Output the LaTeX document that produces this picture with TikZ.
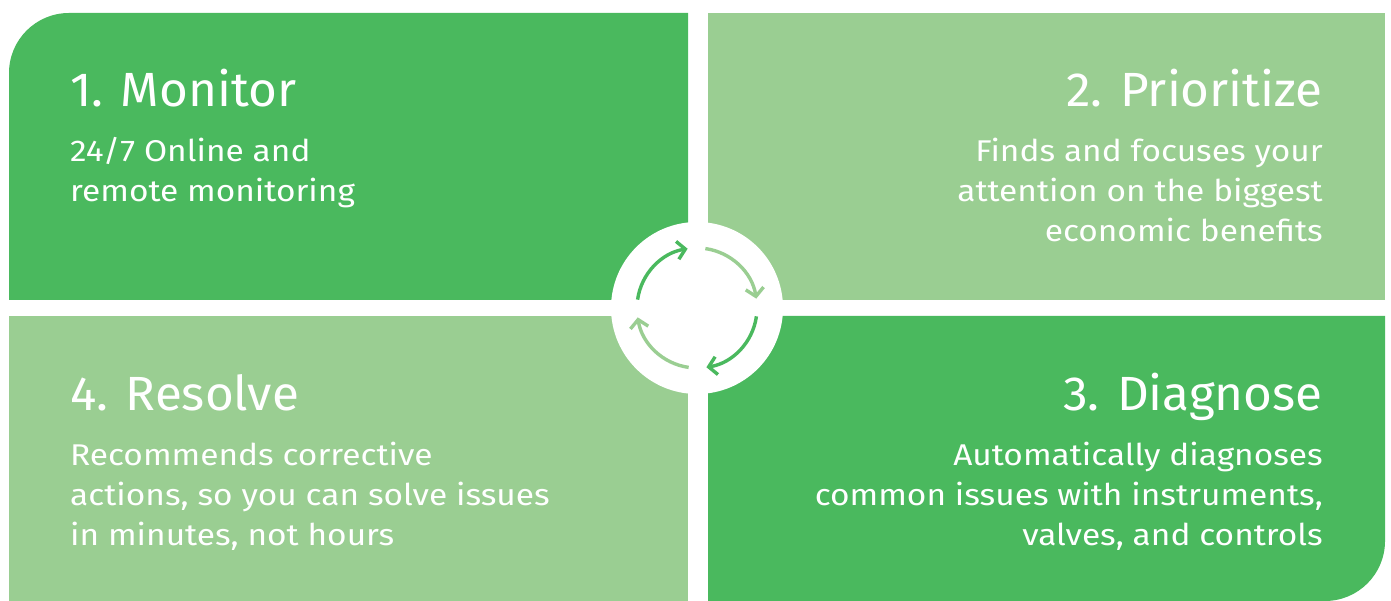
\documentclass[tikz,border=0pt]{standalone}
\usepackage{fontspec}
\newfontfamily\headfont{Fira Sans}[FakeStretch=1.03]
\newfontfamily\bodyfont{Fira Sans}[FakeStretch=1.115]
\usetikzlibrary{arrows.meta,positioning}

\definecolor{dkgreen}{RGB}{74,185,94}
\definecolor{ltgreen}{RGB}{154,206,146}

\begin{document}
\begin{tikzpicture}[x=1pt,y=1pt,
  title/.style={text=white, inner sep=0pt, font=\headfont\fontsize{48}{56}\selectfont},
  body/.style={text=white, inner sep=0pt, font=\bodyfont\fontsize{30}{40}\selectfont},
  turn/.style={line width=3.4pt, -{Straight Barb[length=8pt,width=18pt]}}]
\useasboundingbox (0,0) rectangle (1391,601);

% four panels
\fill[dkgreen] (9,301) -- (9,528) arc[start angle=180, end angle=90, radius=60] -- (688,588) -- (688,301) -- cycle;
\fill[ltgreen] (708,301) rectangle (1385,588);
\fill[ltgreen] (9,0) rectangle (688,285);
\fill[dkgreen] (708,285) -- (1385,285) -- (1385,60) arc[start angle=0, end angle=-90, radius=60] -- (708,0) -- cycle;

% hub
\coordinate (hub) at (697,293);
\fill[white] (hub) circle[radius=86];
\foreach \a/\c in {172/dkgreen, 82/ltgreen, -8/dkgreen, -98/ltgreen}
  \draw[turn, \c] (hub) ++(\a:60) arc[start angle=\a, end angle=\a-73, radius=60];

% texts (multi-line nodes sit on their last line)
\node[title, anchor=base west] (monTitle) at (70,494) {1. Monitor};
\node[body, anchor=base west, align=left] (monText) at (70,399) {24/7 Online and\\remote monitoring};

\node[title, anchor=base east] (priTitle) at (1323,494) {2. Prioritize};
\node[body, anchor=base east, align=right] (priText) at (1323,359) {Finds and focuses your\\attention on the biggest\\economic benefits};

\node[title, anchor=base west] (resTitle) at (70,190) {4. Resolve};
\node[body, anchor=base west, align=left] (resText) at (70,55) {Recommends corrective\\actions, so you can solve issues\\in minutes, not hours};

\node[title, anchor=base east] (diaTitle) at (1323,190) {3. Diagnose};
\node[body, anchor=base east, align=right] (diaText) at (1323,55) {Automatically diagnoses\\common issues with instruments,\\valves, and controls};
\end{tikzpicture}
\end{document}
